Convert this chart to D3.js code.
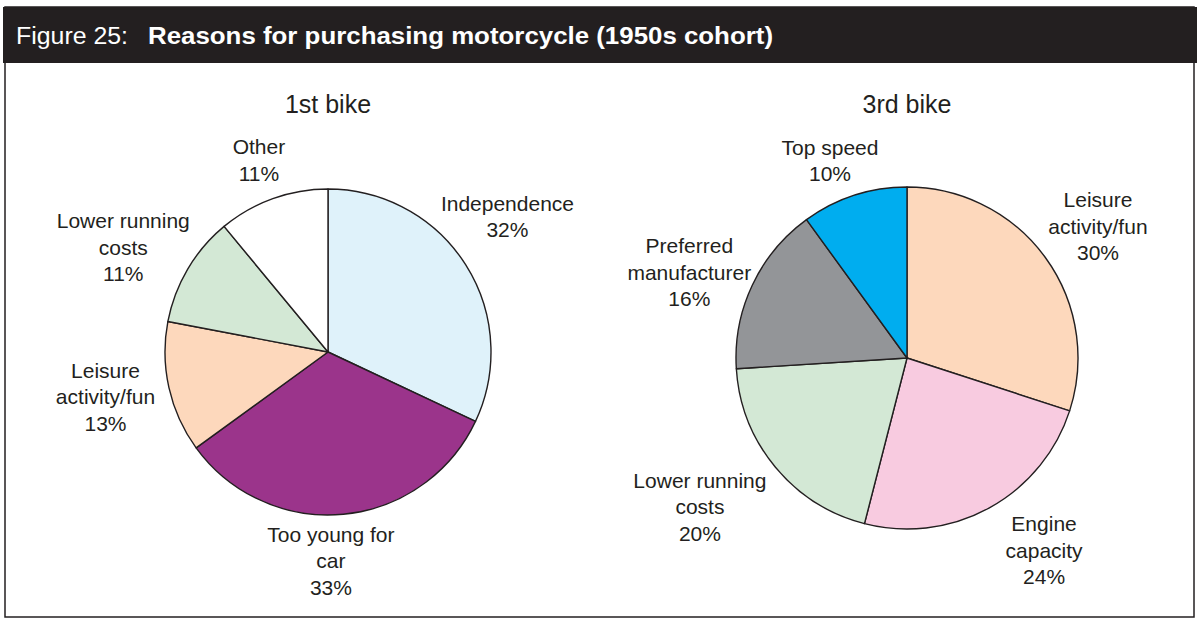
<!DOCTYPE html>
<html>
<head>
<meta charset="utf-8">
<script src="https://cdnjs.cloudflare.com/ajax/libs/d3/7.8.5/d3.min.js"></script>
<style>
  body { margin: 0; background: #fff; }
  svg text { font-family: "Liberation Sans", Arial, Helvetica, sans-serif; }
</style>
</head>
<body>
<div id="chart"></div>
<script>
// data
var bike1Labels = [["Independence"], ["Too young for", "car"], ["Leisure", "activity/fun"], ["Lower running", "costs"], ["Other"]];
var bike1Values = [32, 33, 13, 11, 11];
var bike3Labels = [["Leisure", "activity/fun"], ["Engine", "capacity"], ["Lower running", "costs"], ["Preferred", "manufacturer"], ["Top speed"]];
var bike3Values = [30, 24, 20, 16, 10];

// colour per reason
var reasonColor = {
    "Independence": "#dff2fa",
    "Too young for car": "#9b348b",
    "Leisure activity/fun": "#fdd8bc",
    "Lower running costs": "#d3e8d5",
    "Other": "#ffffff",
    "Engine capacity": "#f8cbe0",
    "Preferred manufacturer": "#939598",
    "Top speed": "#00adef"
};

// label placement: distance from centre and small turn (deg) from mid angle
var bike1LabelDist = [225, 209, 227, 230, 204];
var bike1LabelTurn = [-4.7, 4.6, 1.2, -3.5, 0];
var bike3LabelDist = [232, 236, 255, 234, 212];
var bike3LabelTurn = [1.4, -6.7, 3.9, -3.7, -3.3];

function init() {
    var w = 1199, h = 619;
    var ink = "#231f20";

    var svg = d3.select("#chart").append("svg")
        .attr("width", w)
        .attr("height", h);

    // frame and header bar
    svg.append("rect")
        .attr("x", 5).attr("y", 7)
        .attr("width", 1189).attr("height", 610)
        .attr("fill", "none")
        .attr("stroke", ink)
        .attr("stroke-width", 1.5);

    svg.append("rect")
        .attr("x", 3).attr("y", 7)
        .attr("width", 1194).attr("height", 56)
        .attr("fill", ink);

    // header text, stretched to the width it has in the figure
    svg.append("text")
        .attr("x", 16).attr("y", 44)
        .attr("fill", "#fff")
        .style("font-size", "23px")
        .attr("textLength", 112)
        .attr("lengthAdjust", "spacingAndGlyphs")
        .text("Figure 25:");
    svg.append("text")
        .attr("x", 148).attr("y", 44)
        .attr("fill", "#fff")
        .attr("font-weight", "bold")
        .style("font-size", "23px")
        .attr("textLength", 625)
        .attr("lengthAdjust", "spacingAndGlyphs")
        .text("Reasons for purchasing motorcycle (1950s cohort)");

    drawPie(svg, "1st bike", bike1Labels, bike1Values, bike1LabelDist, bike1LabelTurn, 328, 352, 163);
    drawPie(svg, "3rd bike", bike3Labels, bike3Values, bike3LabelDist, bike3LabelTurn, 907, 358, 171);
}

function drawPie(svg, name, labels, values, dists, turns, cx, cy, r) {
    var ink = "#231f20";
    var lineGap = 26.5;

    var pie = d3.pie().sort(null).value(function(d) { return d; });
    var arc = d3.arc().innerRadius(0).outerRadius(r);
    var arcs = pie(values);

    var g = svg.append("g").attr("transform", "translate(" + cx + "," + cy + ")");

    g.selectAll("path")
        .data(arcs)
        .enter()
        .append("path")
        .attr("d", arc)
        .attr("fill", function(d, i) { return reasonColor[labels[i].join(" ")]; })
        .attr("stroke", ink)
        .attr("stroke-width", 1.4)
        .attr("stroke-linejoin", "round");

    // pie title
    g.append("text")
        .attr("x", 0)
        .attr("y", 113 - cy)
        .attr("text-anchor", "middle")
        .attr("fill", ink)
        .style("font-size", "25px")
        .text(name);

    // labels
    var lab = g.selectAll("text.lab")
        .data(arcs)
        .enter()
        .append("text")
        .attr("class", "lab")
        .attr("text-anchor", "middle")
        .attr("fill", ink)
        .style("font-size", "21px")
        .attr("transform", function(d, i) {
            var a = (d.startAngle + d.endAngle) / 2 + turns[i] * Math.PI / 180;
            var x = Math.sin(a) * dists[i];
            var y = -Math.cos(a) * dists[i];
            var n = labels[i].length + 1;
            var y0 = y - ((n - 1) * lineGap - 15) / 2;
            return "translate(" + x + "," + y0 + ")";
        });

    lab.each(function(d, i) {
        var t = d3.select(this);
        var lines = labels[i].concat([d.value + "%"]);
        lines.forEach(function(s, k) {
            t.append("tspan").attr("x", 0).attr("y", k * lineGap).text(s);
        });
    });
}

window.onload = init;
</script>
</body>
</html>
